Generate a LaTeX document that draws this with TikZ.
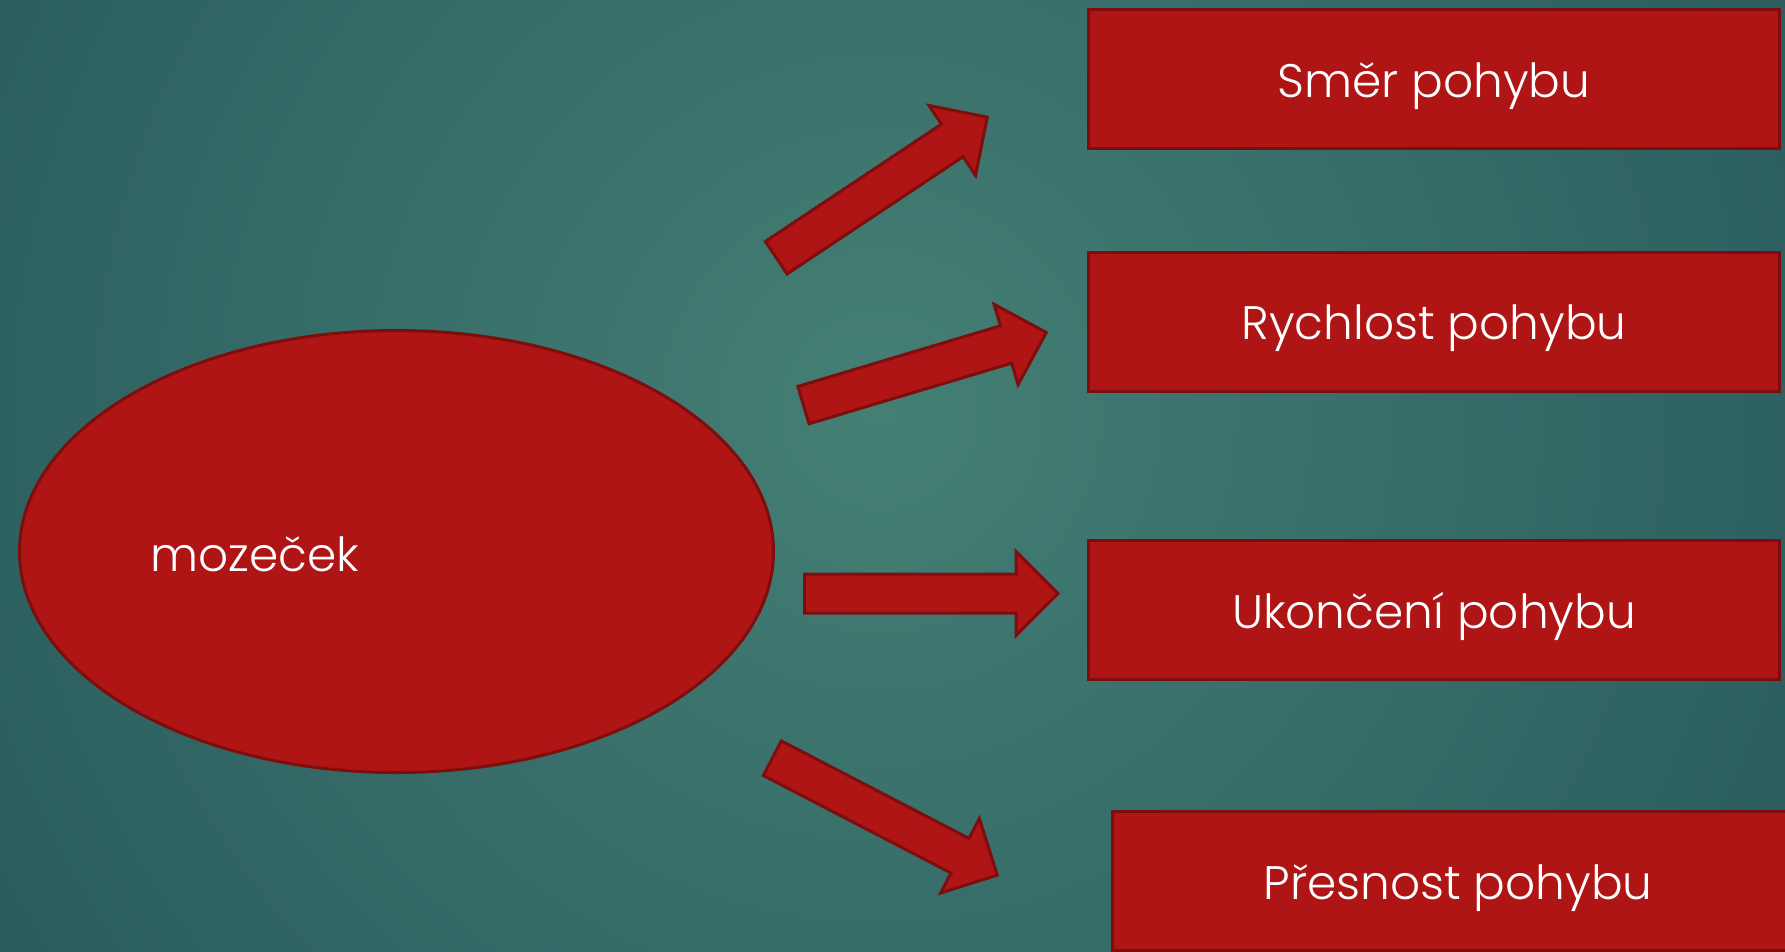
\documentclass[tikz,border=0pt]{standalone}
\usepackage{fontspec}
\setmainfont{Poppins Light}
\usetikzlibrary{shapes.geometric}
\definecolor{bglight}{HTML}{447F74}
\definecolor{bgdark}{HTML}{1B4751}
\definecolor{boxred}{HTML}{AF1515}
\definecolor{boxedge}{HTML}{7E0E0E}

\begin{document}
\begin{tikzpicture}[x=1pt,y=-1pt]
\tikzset{
  brainnode/.style={ellipse,draw=boxedge,fill=boxred,line width=3pt,minimum width=754pt,minimum height=442pt,inner sep=0pt},
  taskbox/.style={rectangle,draw=boxedge,fill=boxred,line width=3pt,minimum width=691pt,minimum height=139pt,inner sep=0pt,text=white,text height=36pt,text depth=0pt,font=\fontsize{47}{56}\selectfont},
  brainlabel/.style={text=white,inner sep=0pt,font=\fontsize{47}{56}\selectfont},
  arrowbody/.style={draw=boxedge,fill=boxred,line width=3pt,line join=miter},
  blockarrow/.pic={
    \draw[arrowbody] (1.5,-19.5) -- (213,-19.5) -- (213,-42) -- (255,0) -- (213,42) -- (213,19.5) -- (1.5,19.5) -- cycle;
  }
}
\useasboundingbox (0,0) rectangle (1785,951);
\clip (0,0) rectangle (1785,951);
\shade[inner color=bglight,outer color=bgdark] (880,410) circle (1650);
\node[brainnode] (n_brain) at (396.5,551.5) {};
\node[brainlabel,anchor=west] (t_brain) at (150,554) {mozeček};
\node[taskbox] (n_smer) at (1434,79) {Směr pohybu};
\node[taskbox] (n_rychlost) at (1434,321.5) {Rychlost pohybu};
\node[taskbox] (n_ukonceni) at (1434,610) {Ukončení pohybu};
\node[taskbox] (n_presnost) at (1458,881) {Přesnost pohybu};
\pic[rotate=33.66] (a_smer) at (775,258.5) {blockarrow};
\pic[rotate=16.65] (a_rychlost) at (802,405.5) {blockarrow};
\pic (a_ukonceni) at (803,593.5) {blockarrow};
\pic[rotate=-27.46] (a_presnost) at (771,757.5) {blockarrow};
\end{tikzpicture}
\end{document}
